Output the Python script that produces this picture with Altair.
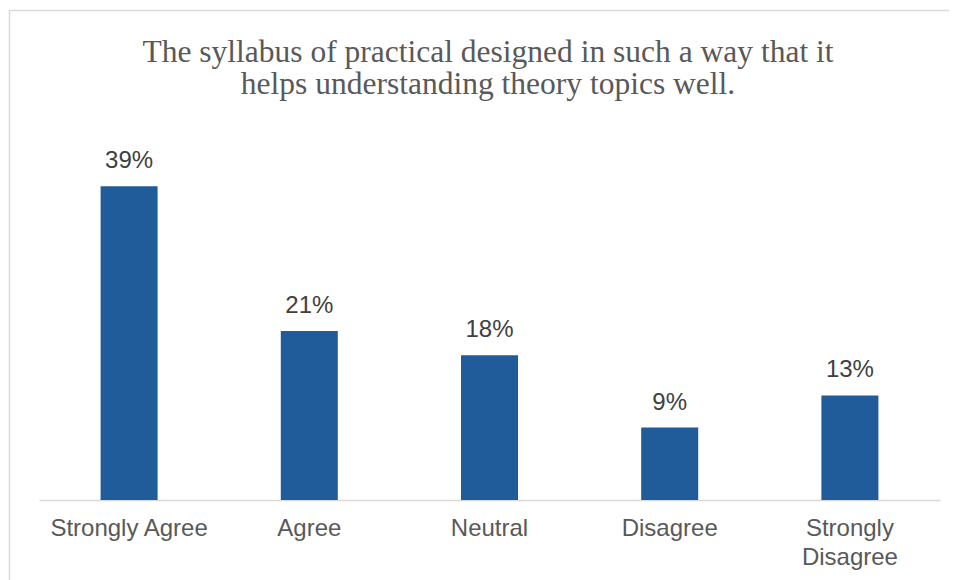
import altair as alt
import pandas as pd

categories = ["Strongly Agree", "Agree", "Neutral", "Disagree", "Strongly Disagree"]
values = [0.39, 0.21, 0.18, 0.09, 0.13]
labels = ["39%", "21%", "18%", "9%", "13%"]
title_lines = ["The syllabus of practical designed in such a way that it",
               "helps understanding theory topics well."]

df = pd.DataFrame({"cat": categories, "val": values, "lab": labels})

W, H = 901, 362
x = alt.X("cat:N", sort=categories, title=None,
          scale=alt.Scale(paddingInner=0, paddingOuter=0),
          axis=alt.Axis(labelAngle=0, ticks=False, domainColor="#D9D9D9", domainWidth=1.3,
                        labelFont="Liberation Sans", labelFontSize=24, labelColor="#595959",
                        labelPadding=16, labelLineHeight=29, labelLimit=400,
                        labelExpr="datum.label == 'Strongly Disagree' ? ['Strongly', 'Disagree'] : datum.label"))
y = alt.Y("val:Q", scale=alt.Scale(domain=[0, 0.45]), axis=None)

base = alt.Chart(df)
bars = base.mark_bar(width=57, color="#1F5C99").encode(x=x, y=y)
text = base.mark_text(font="Liberation Sans", fontSize=24, color="#404040",
                      baseline="alphabetic", dy=-18).encode(x=x, y=y, text="lab:N")

one = alt.Data(values=[{"a": 1}])
border = alt.Chart(one).mark_rect(
    fill=None, stroke="#D9D9D9", strokeWidth=1.5).encode(
    x=alt.value(-29.5), x2=alt.value(1000), y=alt.value(-127.5), y2=alt.value(600))

title = alt.Chart(one).mark_text(
    font="Liberation Serif", fontSize=31.5, color="#595959", lineHeight=32,
    align="center", baseline="alphabetic").encode(
    x=alt.value(449), y=alt.value(-76), text=alt.value(title_lines))

chart = alt.layer(border, title, bars, text).properties(
    width=W, height=H,
    autosize=alt.AutoSizeParams(type="none"),
    padding={"left": 31, "top": 130, "right": 9, "bottom": 82},
).configure_view(stroke=None)

chart.save("out.html", embed_options={"renderer": "svg", "actions": False})
